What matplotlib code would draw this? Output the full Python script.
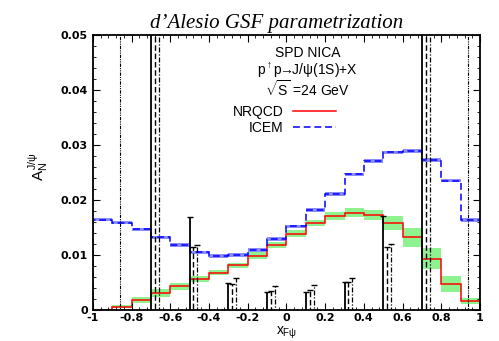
import numpy as np
import matplotlib
matplotlib.use("Agg")
import matplotlib.pyplot as plt
from matplotlib.ticker import MultipleLocator

plt.rcParams['font.family'] = ['Liberation Sans', 'DejaVu Sans']
plt.rcParams['mathtext.fontset'] = 'custom'
plt.rcParams['mathtext.rm'] = 'Liberation Sans'
plt.rcParams['mathtext.it'] = 'Liberation Sans'

# histogram bins in x_F
edges = np.round(np.arange(-1.0, 1.01, 0.1), 2)

nrqcd = [0.0, 0.0006, 0.0018, 0.0031, 0.0043, 0.0056, 0.0068, 0.0081, 0.0099, 0.0118,
         0.0139, 0.0158, 0.0171, 0.0177, 0.0173, 0.0158, 0.0132, 0.0093, 0.0047, 0.0016]
nrqcd_err = [0.0, 0.0003, 0.0005, 0.0007, 0.0006, 0.0005, 0.0005, 0.0005, 0.0006, 0.0006,
             0.0006, 0.0006, 0.0007, 0.0008, 0.0009, 0.0013, 0.0017, 0.0019, 0.0015, 0.0005]
icem = [0.0164, 0.0159, 0.0147, 0.0132, 0.0118, 0.0105, 0.0098, 0.0100, 0.0109, 0.0129,
        0.0152, 0.0182, 0.0211, 0.0247, 0.0271, 0.0287, 0.0289, 0.0273, 0.0235, 0.0164]
icem_err = [0.0003] * 19 + [0.0004]

# projected statistical uncertainties (centred on zero)
x_solid = [-0.7, -0.5, -0.3, -0.1, 0.1, 0.3, 0.5, 0.7]
err_solid = [0.08, 0.0170, 0.0049, 0.0032, 0.0032, 0.0050, 0.0171, 0.08]
x_dashed = [-0.68, -0.48, -0.28, -0.08, 0.12, 0.32, 0.52, 0.72]
err_dashed = [0.08, 0.0115, 0.0047, 0.0035, 0.0036, 0.0050, 0.0115, 0.08]
x_dashdot = [-0.66, -0.46, -0.26, -0.06, 0.14, 0.34, 0.54, 0.74]
err_dashdot = [0.08, 0.0119, 0.0058, 0.0044, 0.0045, 0.0058, 0.0120, 0.08]
x_dotted = [-0.86, 0.94]
err_dotted = [0.08, 0.08]

xticks = [-1, -0.8, -0.6, -0.4, -0.2, 0, 0.2, 0.4, 0.6, 0.8, 1]
xlabels = ['-1', '-0.8', '-0.6', '-0.4', '-0.2', '0', '0.2', '0.4', '0.6', '0.8', '1']
yticks = [0, 0.01, 0.02, 0.03, 0.04, 0.05]
ylabels = ['0', '0.01', '0.02', '0.03', '0.04', '0.05']

fig = plt.figure(figsize=(4.99, 3.41), dpi=100)
ax = fig.add_axes([0.186, 0.091, 0.776, 0.806])

lo = np.array(nrqcd) - np.array(nrqcd_err)
hi = np.array(nrqcd) + np.array(nrqcd_err)
ax.stairs(hi, edges, baseline=lo, fill=True, color='#8ef28e', lw=0)
lo = np.array(icem) - np.array(icem_err)
hi = np.array(icem) + np.array(icem_err)
ax.stairs(hi, edges, baseline=lo, fill=True, color='#8c8cff', lw=0)

ax.stairs(nrqcd, edges, color='red', lw=1.1, label='NRQCD')
ax.stairs(icem, edges, color='blue', lw=1.1, linestyle=(0, (4.5, 2.5)), label='ICEM')

for xs, es, ls, lw in [(x_solid, err_solid, '-', 1.3),
                       (x_dashed, err_dashed, (0, (4, 2)), 1.0),
                       (x_dashdot, err_dashdot, (0, (4, 1.5, 1, 1.5)), 0.9),
                       (x_dotted, err_dotted, (0, (3, 1, 1, 1, 1, 1)), 0.8)]:
    eb = ax.errorbar(xs, np.zeros(len(xs)), yerr=es, fmt='none', ecolor='black',
                     elinewidth=lw, capsize=2, capthick=1.0)
    eb[2][0].set_linestyle(ls)

ax.set_xlim(-1, 1)
ax.set_ylim(0, 0.05)
ax.set_xticks(xticks)
ax.set_xticklabels(xlabels, fontweight='bold', fontfamily='DejaVu Sans', fontsize=8)
ax.set_yticks(yticks)
ax.set_yticklabels(ylabels, fontweight='bold', fontfamily='DejaVu Sans', fontsize=8)
ax.xaxis.set_minor_locator(MultipleLocator(0.04))
ax.yaxis.set_minor_locator(MultipleLocator(0.002))
ax.tick_params(which='both', direction='in', top=True, right=True)
ax.tick_params(which='major', length=5)
ax.tick_params(which='minor', length=2.5)
ax.tick_params(axis='x', pad=2)
for s in ax.spines.values():
    s.set_linewidth(1.3)

ax.set_title("d\u2019Alesio GSF parametrization", fontfamily='Liberation Serif',
             style='italic', fontsize=15, pad=5, x=0.475)
ax.set_ylabel(r"$A_N^{J/\psi}$", fontsize=11)
ax.yaxis.set_label_coords(-0.11, 0.52)
ax.set_xlabel(r"$x_{F\psi}$", fontsize=10)
ax.xaxis.set_label_coords(0.5, -0.055)

ax.text(0.11, 0.0468, "SPD NICA", ha='center', va='center', fontsize=10)
ax.text(0.11, 0.0436, r"p$^{\uparrow}$p$\!\!\rightarrow\!\!$J/$\psi$(1S)+X", ha='center',
        va='center', fontsize=10)
ax.text(0.11, 0.0402, r"$\sqrt{S}$ =24 GeV", ha='center', va='center', fontsize=10)

ax.legend(loc='upper right', bbox_to_anchor=(0.628, 0.745), frameon=False, fontsize=10,
          markerfirst=False, handlelength=3.1, handletextpad=0.7, labelspacing=0.15,
          borderaxespad=0, borderpad=0)

fig.savefig("out.png", dpi=100)
